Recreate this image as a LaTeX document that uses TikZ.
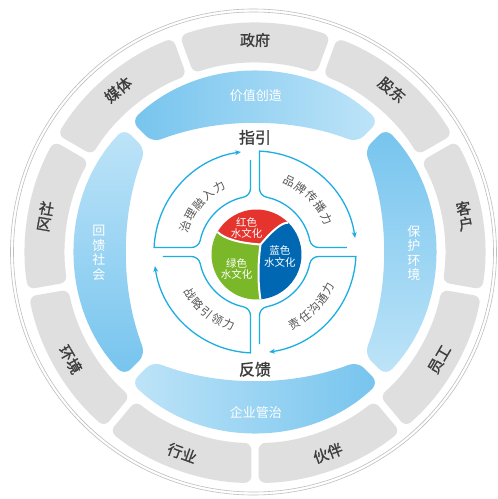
\documentclass[tikz,border=0pt]{standalone}
\usepackage{fontspec}
\setmainfont{Noto Sans CJK SC}[AutoFakeBold=1.2]
\usetikzlibrary{arrows.meta}
\definecolor{cyanL}{RGB}{28,174,226}
\definecolor{bdark}{RGB}{118,196,238}
\definecolor{blight}{RGB}{190,228,248}
\definecolor{gseg}{RGB}{223,223,223}
\definecolor{gtext}{RGB}{60,60,60}
\definecolor{qtext}{RGB}{85,85,85}
\definecolor{pred}{RGB}{228,52,45}
\definecolor{pblue}{RGB}{0,104,178}
\definecolor{pgreen}{RGB}{122,184,42}
\definecolor{ring}{RGB}{190,190,190}
\tikzset{
  glabel/.style={text=gtext, font=\fontsize{15}{15.5}\selectfont\bfseries, align=center, inner sep=0pt},
  blabel/.style={text=white, font=\fontsize{13}{14.5}\selectfont, align=center, inner sep=0pt},
  hlabel/.style={text=gtext, font=\fontsize{16}{17}\selectfont\bfseries, inner sep=0pt},
  qchar/.style={text=qtext, font=\fontsize{11.5}{11.5}\selectfont, inner sep=0pt},
  plabel/.style={text=white, font=\fontsize{10.5}{11.5}\selectfont, align=center, inner sep=0pt},
  qline/.style={draw=cyanL, line width=1.3pt},
  bT/.style={left color=bdark, right color=blight},
  bR/.style={top color=bdark, bottom color=blight},
  bB/.style={left color=blight, right color=bdark},
  bL/.style={top color=blight, bottom color=bdark},
}
\begin{document}
\begin{tikzpicture}[x=1pt,y=1pt]
\useasboundingbox (-255,-247) rectangle (243,252);
\fill[white] (-255,-247) rectangle (243,252);
% outer double circle
\draw[ring, line width=0.6pt] (-1.5,0) circle (243);
\draw[ring, line width=0.6pt] (-1.5,0) circle (240);
% gray ring
\begin{scope}[shift={(0,-1)}]
\foreach \a/\t/\rot [count=\i] in {90/政府/0, 50/股东/-40, 10/{客\\户}/10, -30/员工/60, -70/伙伴/20, -110/行业/-20, -150/环境/-60, 170/{社\\区}/-10, 130/媒体/40}{
  \pgfmathsetmacro\sa{\a-20+0.9}
  \pgfmathsetmacro\ea{\a+20-0.9}
  \pgfmathsetmacro\sb{\a+20-1.1}
  \pgfmathsetmacro\eb{\a-20+1.1}
  \fill[gseg, rounded corners=7pt] (\sa:230) arc[start angle=\sa, end angle=\ea, radius=230] -- (\sb:190) arc[start angle=\sb, end angle=\eb, radius=190] -- cycle;
  \node[glabel, rotate=\rot] (g\i) at (\a:213) {\t};
}
\end{scope}
% blue ring
\foreach \b/\st [count=\i] in {90/bT, 0/bR, -90/bB, 180/bL}{
  \pgfmathsetmacro\oa{\b-43.4}
  \pgfmathsetmacro\ob{\b+43.4}
  \pgfmathsetmacro\ia{\b+43.1}
  \pgfmathsetmacro\ic{\b+20.9}
  \pgfmathsetmacro\id{\b-20.9}
  \shade[\st, rounded corners=9pt] (\oa:180) arc[start angle=\oa, end angle=\ob, radius=180] -- (\ia:150) arc[start angle=\ic, end angle=\id, radius=287] -- cycle;
}
\node[blabel] (b1) at (1,156) {价值创造};
\node[blabel] (b2) at (159,-1) {保\\护\\环\\境};
\node[blabel] (b3) at (1,-161) {企业管治};
\node[blabel] (b4) at (-156,-1) {回\\馈\\社\\会};
\node[hlabel] (zy) at (0,114.7) {指引};
\node[hlabel] (fk) at (0,-117.3) {反馈};
% quadrants
\foreach \r in {0,-90,-180,-270}{
\begin{scope}[rotate=\r]
\draw[qline, {Stealth[length=6pt,width=5pt]}-] (98:101) arc[start angle=98, end angle=177.45, radius=101] -- (-63.58,4.5) arc[start angle=270, end angle=348.01, radius=9] arc[start angle=168.01, end angle=101.99, radius=56] arc[start angle=281.99, end angle=360, radius=9] -- (-4.5,92);
\end{scope}
}
% quadrant labels
\foreach \c [count=\i from 0] in {治,理,融,入,力}{
  \pgfmathsetmacro\ang{160-10.25*\i}
  \pgfmathsetmacro\rr{\ang-90}
  \node[qchar, rotate=\rr] at (\ang:74) {\c};
}
\foreach \c [count=\i from 0] in {品,牌,传,播,力}{
  \pgfmathsetmacro\ang{64-9.75*\i}
  \pgfmathsetmacro\rr{\ang-90}
  \node[qchar, rotate=\rr] at (\ang:79) {\c};
}
\foreach \c [count=\i from 0] in {责,任,沟,通,力}{
  \pgfmathsetmacro\ang{-61+8.6*\i}
  \pgfmathsetmacro\rr{\ang+90}
  \node[qchar, rotate=\rr] at (\ang:82) {\c};
}
\foreach \c [count=\i from 0] in {战,略,引,领,力}{
  \pgfmathsetmacro\ang{-147+9.25*\i}
  \pgfmathsetmacro\rr{\ang+90}
  \node[qchar, rotate=\rr] at (\ang:77) {\c};
}
% pie
\begin{scope}[shift={(1.5,-2.5)}]
\coordinate (L) at (150:45);
\coordinate (R) at (45:45);
\coordinate (B) at (-85:45);
\coordinate (J) at (4,10);
\fill[pred] (L) arc[start angle=150, end angle=45, radius=45] .. controls (25.87,32.27) and (16.6,25) .. (J) .. controls (-17.67,11.57) and (-32,15.73) .. (L) -- cycle;
\fill[pblue] (R) arc[start angle=45, end angle=-85, radius=45] .. controls (1.33,-27.73) and (1.37,-9.47) .. (J) .. controls (16.6,25) and (25.87,32.27) .. (R) -- cycle;
\fill[pgreen] (B) arc[start angle=-85, end angle=-210, radius=45] .. controls (-32,15.73) and (-17.67,11.57) .. (J) .. controls (1.37,-9.47) and (1.33,-27.73) .. (B) -- cycle;
\draw[white, line width=2pt] (L) .. controls (-32,15.73) and (-17.67,11.57) .. (J);
\draw[white, line width=2pt] (R) .. controls (25.87,32.27) and (16.6,25) .. (J);
\draw[white, line width=2pt] (J) .. controls (1.37,-9.47) and (1.33,-27.73) .. (B);
\end{scope}
\node[plabel] (p1) at (-8.3,24) {红色\\水文化};
\node[plabel] (p2) at (25,-4.7) {蓝色\\水文化};
\node[plabel] (p3) at (-18.3,-17) {绿色\\水文化};
\end{tikzpicture}
\end{document}
